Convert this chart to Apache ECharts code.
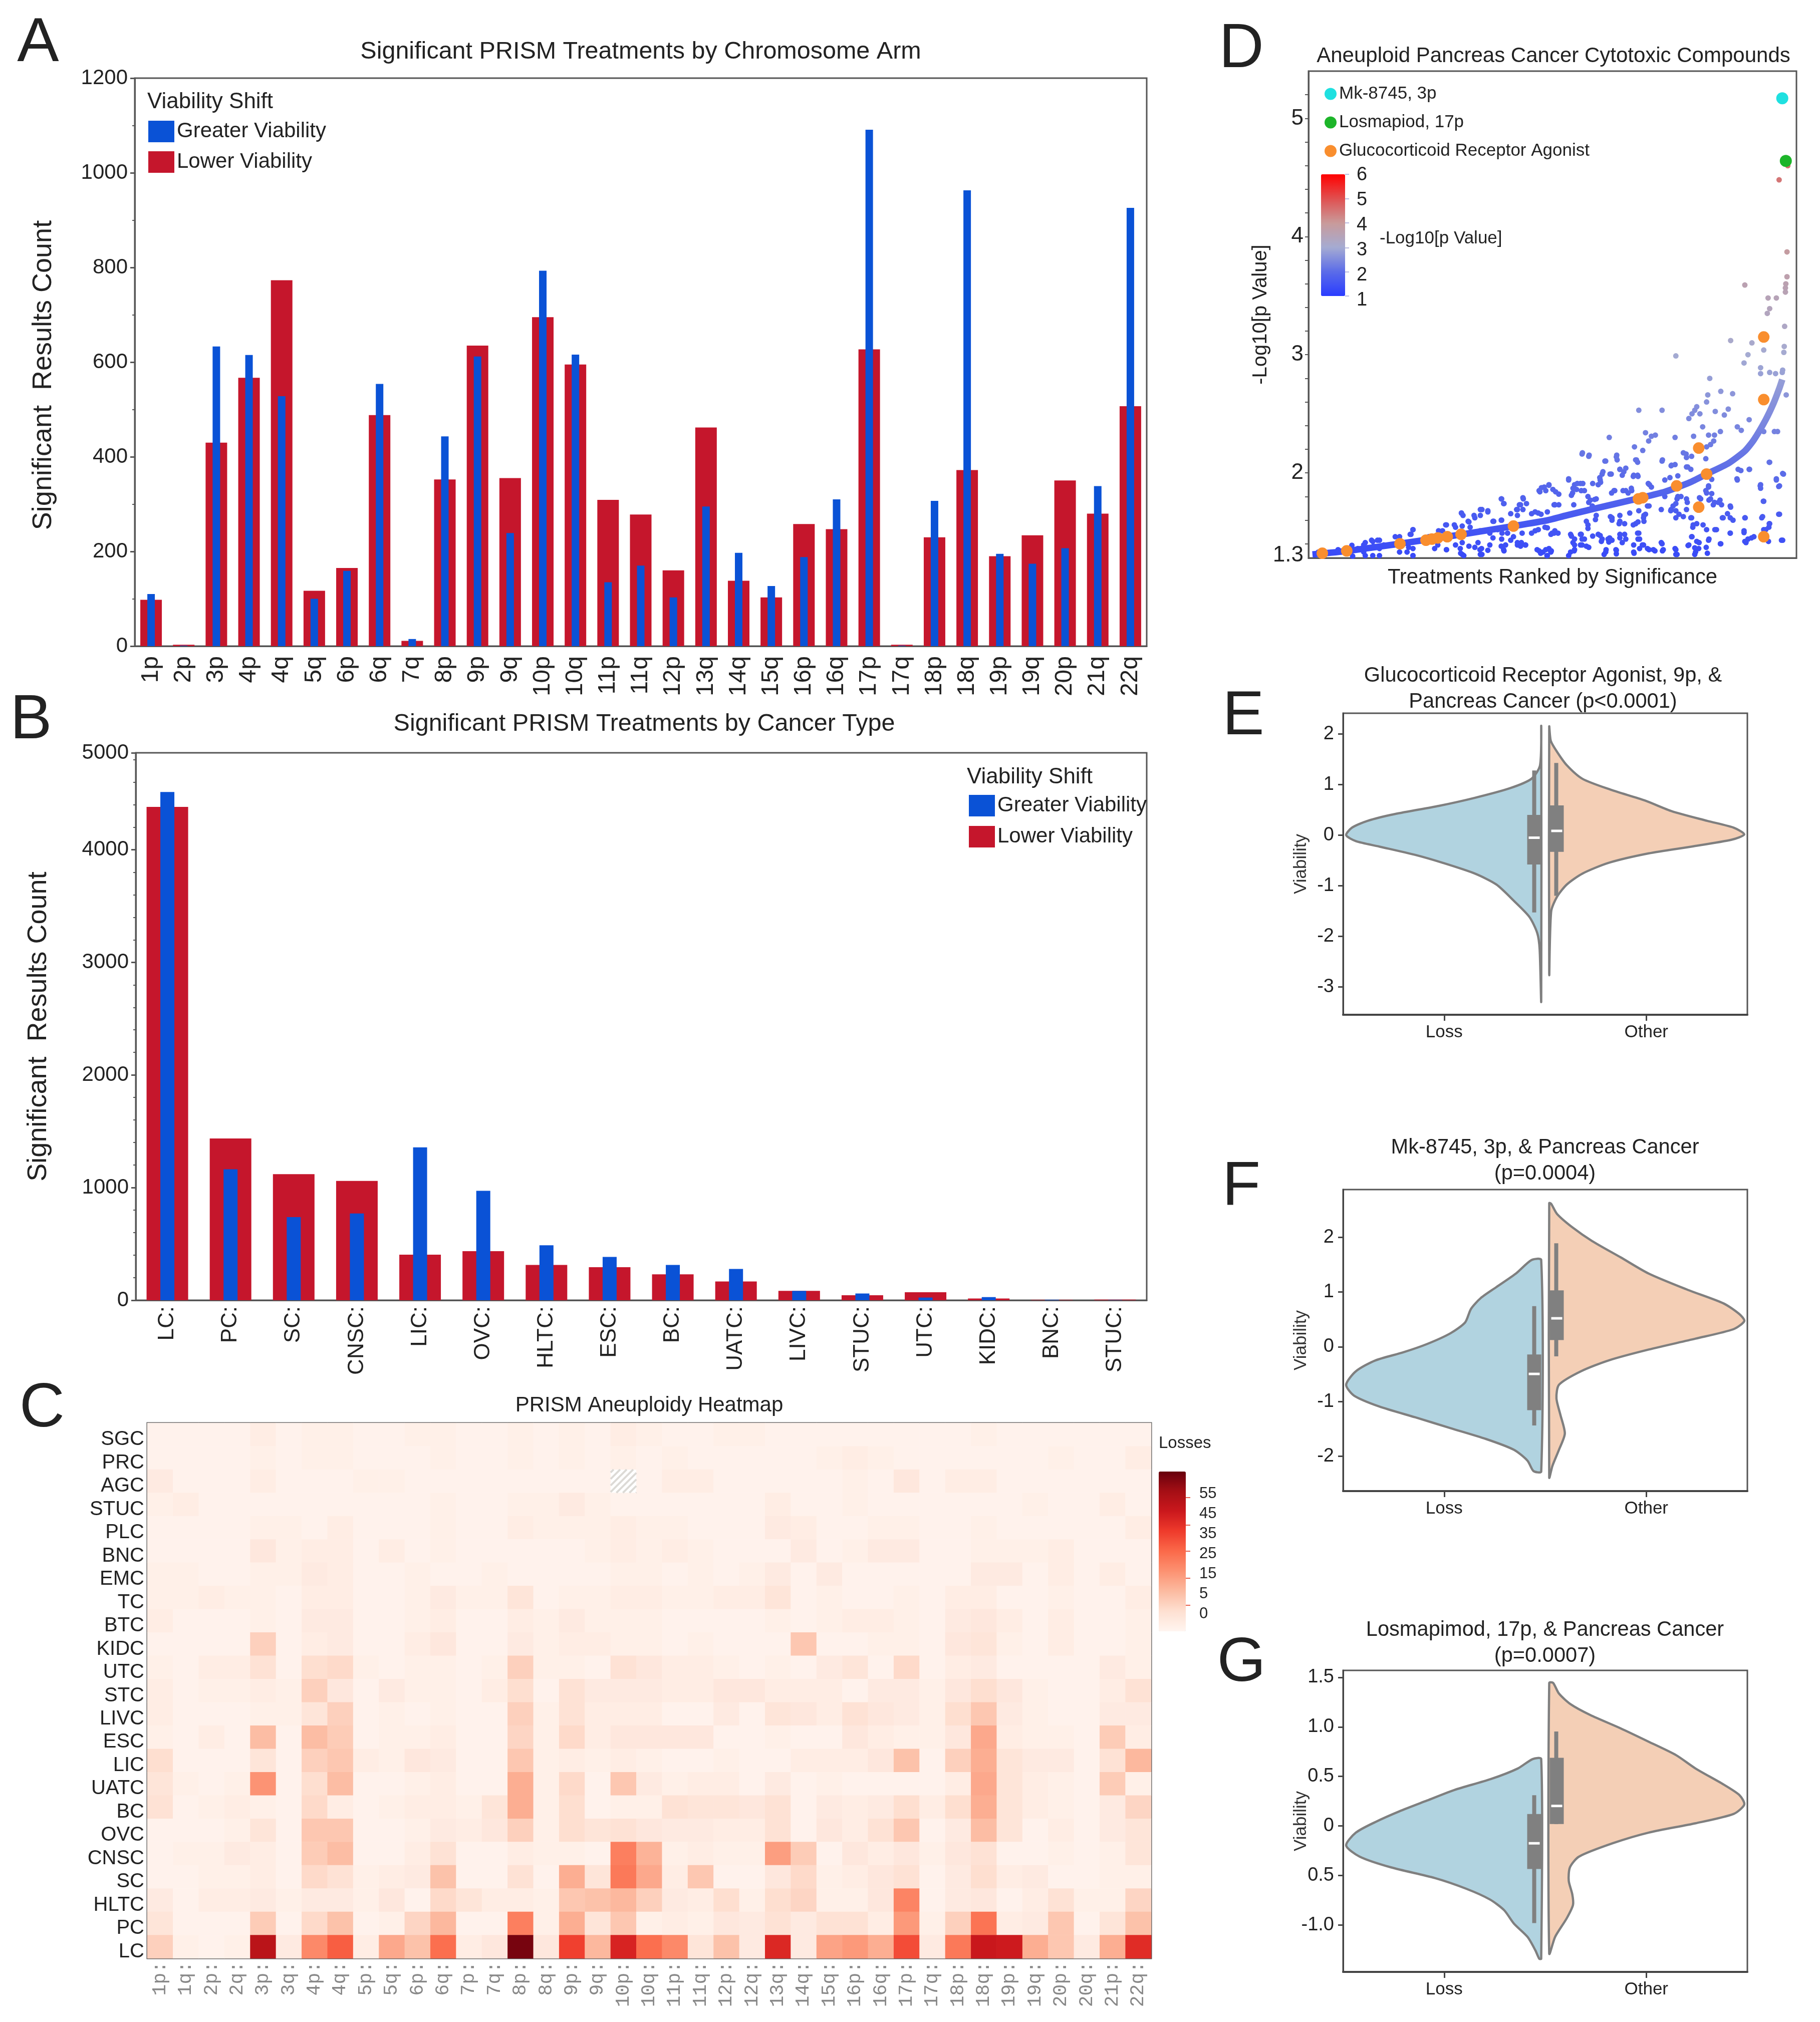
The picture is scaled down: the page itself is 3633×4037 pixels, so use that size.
<!DOCTYPE html>
<html>
<head>
<meta charset="utf-8">
<title>PRISM aneuploidy</title>
<script src="https://cdn.jsdelivr.net/npm/echarts@6/dist/echarts.min.js"></script>
<style>
  html, body { margin: 0; background: #fff; }
  #chart { width: 3633px; height: 4037px; }
</style>
</head>
<body>
<div id="chart"></div>
<script>
// A - results per chromosome arm
const armNames = ['1p','2p','3p','4p','4q','5q','6p','6q','7q','8p','9p','9q','10p','10q','11p','11q','12p','13q','14q','15q','16p','16q','17p','17q','18p','18q','19p','19q','20p','21q','22q'];
const armLower = [98,3,430,567,773,117,165,488,11,352,635,355,695,595,309,278,160,462,138,103,258,247,627,3,230,372,190,234,350,280,507];
const armGreater = [110,1,633,615,528,100,159,554,15,443,612,239,793,616,135,170,103,295,197,127,188,310,1091,1,307,963,195,174,207,338,926];

// B - results per cancer type
const cancerNames = ['LC:','PC:','SC:','CNSC:','LIC:','OVC:','HLTC:','ESC:','BC:','UATC:','LIVC:','STUC:','UTC:','KIDC:','BNC:','STUC:'];
const cancerLower = [4380,1436,1119,1059,405,436,313,294,230,167,83,44,71,16,3,6];
const cancerGreater = [4512,1163,738,770,1357,972,488,385,313,278,83,60,24,28,4,2];
const cancerTop = 4860; // the top of the axis carries the label 5000

// C - heatmap, rows listed top to bottom
const heatCols = ['1p','1q','2p','2q','3p','3q','4p','4q','5p','5q','6p','6q','7p','7q','8p','8q','9p','9q','10p','10q','11p','11q','12p','12q','13q','14q','15q','16p','16q','17p','17q','18p','18q','19p','19q','20p','20q','21p','22q'];
const heatRowNames = ['SGC','PRC','AGC','STUC','PLC','BNC','EMC','TC','BTC','KIDC','UTC','STC','LIVC','ESC','LIC','UATC','BC','OVC','CNSC','SC','HLTC','PC','LC'];
const heatValues = [
  [1,1,1,1,3,1,2,2,1,1,2,2,1,1,2,1,2,1,3,2, 1,1,2,2,1,1,1,1,1,1,1,1,2,1,1,1,1,1,1],
  [1,1,1,1,2,1,2,2,1,1,1,2,1,1,2,1,2,1,2,1, 2,1,1,1,1,1,2,3,2,1,1,1,1,1,1,2,1,1,3],
  [4,1,1,1,3,1,1,1,2,2,1,1,1,1,1,1,1,1,null,1, 3,3,1,1,1,1,1,2,1,5,1,3,3,1,1,1,1,1,1],
  [2,3,1,1,1,1,1,1,1,1,1,2,1,1,2,2,4,2,1,1, 1,1,1,1,3,1,1,2,1,1,1,1,1,1,2,1,1,3,1],
  [1,1,1,1,2,2,1,3,1,1,1,2,1,1,3,2,2,2,3,2, 2,1,1,1,4,3,1,1,2,2,1,1,2,1,1,1,1,1,3],
  [1,1,1,1,5,2,3,3,1,3,1,2,1,1,1,1,1,2,3,2, 3,2,1,1,1,4,1,2,4,4,1,1,2,2,2,3,1,1,1],
  [2,2,1,1,2,2,4,3,1,1,2,1,1,2,1,1,1,1,2,2, 1,2,1,2,4,1,4,1,1,1,1,1,4,4,1,3,1,3,1],
  [2,2,3,2,2,1,3,3,1,1,2,4,2,2,6,1,2,2,3,3, 2,2,3,3,6,1,2,1,1,2,1,3,3,1,1,2,1,1,3],
  [3,1,1,1,2,1,4,4,1,1,2,3,1,1,3,2,4,2,2,2, 1,1,1,1,2,1,2,3,3,2,1,4,5,3,1,3,1,1,2],
  [1,1,1,1,11,1,3,4,1,1,3,5,1,1,4,2,3,3,2,2, 1,2,1,1,1,13,1,1,2,2,1,5,6,2,1,3,1,1,2],
  [2,1,3,3,7,1,8,9,2,1,2,2,1,2,11,2,2,1,7,5, 3,3,2,1,2,1,4,6,1,9,1,3,4,1,1,1,1,4,2],
  [3,1,2,2,3,2,11,5,1,4,2,2,1,3,8,1,7,4,4,4, 3,3,5,5,3,3,3,1,4,4,2,5,8,5,2,1,1,3,7],
  [3,1,1,1,2,2,6,11,1,2,1,2,1,1,11,2,7,3,3,3, 1,1,4,1,6,5,3,7,5,4,2,8,13,4,2,1,1,4,4],
  [2,1,3,1,15,1,15,12,1,2,2,3,1,1,10,2,9,3,5,5, 5,5,1,1,2,1,1,5,3,2,2,5,19,3,2,2,1,12,3],
  [8,1,1,1,6,1,11,13,3,2,5,4,1,1,13,2,3,2,3,2, 1,1,2,1,1,3,3,3,5,14,1,11,18,6,4,4,1,7,16],
  [6,2,1,2,23,1,8,15,1,1,2,3,1,1,18,2,9,1,13,4, 2,3,3,1,4,1,2,1,1,1,1,3,19,6,3,2,1,12,2],
  [7,1,2,3,2,1,9,3,1,2,3,3,2,6,18,2,8,1,2,2, 7,6,6,5,7,1,4,3,4,8,3,8,18,6,3,2,1,4,10],
  [1,1,1,2,6,1,13,13,1,1,2,4,3,5,11,2,8,6,7,5, 4,4,3,3,7,1,5,3,7,13,1,4,15,6,1,3,1,4,6],
  [1,2,2,4,3,1,12,15,1,1,3,7,1,1,3,2,2,1,27,17, 2,3,2,2,21,12,1,5,3,5,2,5,7,1,1,2,1,2,6],
  [1,1,2,2,3,1,9,7,2,3,4,14,1,1,7,1,18,6,28,19, 3,13,1,1,5,9,2,3,5,7,1,4,8,3,4,1,1,2,2],
  [4,1,3,3,4,2,4,4,2,5,1,9,6,3,3,2,13,14,16,11, 4,3,8,2,8,10,2,2,5,26,1,4,5,1,3,7,2,2,10],
  [6,1,1,1,12,1,9,14,1,2,10,16,1,1,27,2,18,6,13,2, 3,2,5,4,7,4,7,7,3,22,2,11,29,3,4,13,1,6,14],
  [11,2,1,2,50,4,25,33,3,19,14,30,3,5,60,5,38,16,44,30, 25,6,14,4,43,4,20,22,18,36,4,28,47,46,18,13,4,18,42]
];
const heatMax = 62;
const lossTicks = ['55','45','35','25','15','5','0'];

// D - ranked treatments, [rank, -log10 p]
const rankCurve = [[10,1.31],[100,1.34],[230,1.40],[330,1.45],[390,1.48],[520,1.55],[607,1.60],[654,1.64],[735,1.705],[819,1.77],[904,1.84],[968,1.92],[1010,1.99],[1065,2.08],[1107,2.185],[1130,2.28],[1160,2.45],[1180,2.59],[1195,2.72],[1202,2.79]];
const rankDots = [
  [1194,4.48],[1216,4.60],[1214,3.87],[1214,3.66],[1107,3.59],[1211,3.60],[1210,3.565],[1210,3.53],[1166,3.48],[1187,3.48],[1170,3.39],[1164,3.35],[1208,3.24],[1071,3.12],[1125,3.10],[1155,3.04],[1115,3.00],[932,2.99],[1207,3.07],[1206,3.02],[1105,2.93],[1147,2.89],[1147,2.84],[1170,2.85],[1185,2.84],[1203,2.87],[1202,2.85],[1018,2.80],
  [1046,2.69],[1076,2.67],[1013,2.66],[1212,2.66],[1010,2.60],[838,2.53],[897,2.53],[985,2.56],[980,2.53],[973,2.50],[965,2.46],[993,2.50],[1032,2.52],[1065,2.54],[1055,2.49],[1118,2.45],[1000,2.39],[1088,2.39],[1098,2.36],[1045,2.35],[1030,2.32],[1015,2.32],
  [880,2.32],[870,2.31],[763,2.30],[855,2.34],[930,2.30],[977,2.31],[1155,2.35],[1182,2.35],[1190,2.35],[1028,2.27],[1020,2.24],[863,2.27],[827,2.22],[848,2.19],[1010,2.22],[695,2.17],[712,2.15],[782,2.15],[958,2.16],[830,2.11],[835,2.09],[752,2.10],[783,2.11],[898,2.11],[1170,2.09],[920,2.06],[930,2.07],[962,2.05],[970,2.03],
  [1118,2.03],[1090,2.03],[1205,1.99],[745,1.99],[765,1.99],[790,2.03],[800,2.01],[825,1.98],[835,1.98],[917,1.96],[865,1.90],[1088,1.94],[1187,1.94],[1195,1.89],[1147,1.90],[1147,1.87],[660,1.94],[740,1.94],[675,1.90],[690,1.91],[680,1.86],[735,1.90],[598,1.88],[610,1.90],[620,1.86],[585,1.85],[635,1.82],[625,1.73],[670,1.83],[700,1.85],
  [775,1.85],[805,1.85],[820,1.85],[910,1.85],[1015,1.88],[1010,1.83],[945,1.80],[935,1.78],[995,1.78],[1020,1.78],[1040,1.75],[1030,1.75],[1155,1.76],[1070,1.72],[925,1.72],[920,1.69],[940,1.65],[1070,1.62],[1050,1.62],[1195,1.65],[1108,1.62],[1150,1.62],[970,1.62],[985,1.57],[975,1.54],[1170,1.57],
  [490,1.78],[495,1.74],[545,1.78],[535,1.73],[530,1.69],[730,1.78],[715,1.77],[720,1.72],[710,1.69],[635,1.73],[575,1.67],[590,1.65],[530,1.64],[490,1.60],[470,1.59],[440,1.69],[455,1.67],[388,1.66],[420,1.64],[405,1.59],[370,1.56],[348,1.56],[850,1.62],[830,1.57],[770,1.62],[790,1.59],[860,1.72],[770,1.60],[730,1.64],[655,1.64],[705,1.59],[895,1.69],[855,1.65],
  [265,1.52],[260,1.48],[305,1.46],[220,1.46],[340,1.51],[355,1.48],[160,1.43],[175,1.43],[140,1.39],[165,1.38],[180,1.36],[125,1.36],[140,1.33],[75,1.35],[25,1.33],[250,1.33],[265,1.36],[265,1.30],[320,1.36],[385,1.36],[390,1.31],[435,1.35],[440,1.31],[350,1.35],[460,1.39],[430,1.41],[410,1.54],[435,1.51],
  [490,1.44],[500,1.39],[495,1.35],[520,1.46],[540,1.41],[530,1.39],[550,1.39],[480,1.52],[505,1.49],[460,1.49],[580,1.35],[595,1.33],[610,1.36],[615,1.33],[605,1.30],[625,1.51],[615,1.48],[600,1.54],[575,1.51],
  [665,1.48],[675,1.44],[690,1.48],[700,1.44],[675,1.39],[690,1.39],[705,1.38],[665,1.33],[675,1.35],[735,1.48],[745,1.44],[760,1.44],[770,1.43],[790,1.48],[805,1.44],[755,1.35],[750,1.31],[780,1.35],[825,1.33],[835,1.49],[840,1.44],[825,1.39],[850,1.39],[840,1.36],[860,1.36],[875,1.35],[895,1.41],[900,1.35],[930,1.36],[935,1.31],[965,1.39],[973,1.46],[985,1.42],[1015,1.43],[990,1.36],[980,1.31],[1035,1.52],[1045,1.40],[1070,1.49],[1105,1.51],[1115,1.44],[1110,1.41],[1130,1.46],[1200,1.43],[1155,1.52],[1168,1.54],[1010,1.52],
  [17,1.31],[76,1.345],[110,1.387],[112,1.295],[144,1.41],[144,1.30],[163,1.42],[180,1.43],[163,1.30],[180,1.30],[191,1.39],[231,1.46],[231,1.33],[265,1.52],[258,1.48],[265,1.30],[254,1.37],[330,1.51],[328,1.39],[350,1.56],[373,1.54],[350,1.35],[373,1.39],[388,1.66],[392,1.64],[390,1.55],[390,1.41],[386,1.32],[394,1.30],[407,1.585],[422,1.62],[436,1.69],[436,1.64],[455,1.68],[468,1.59],[468,1.45],[407,1.38],[422,1.37],[439,1.36],[436,1.31],[455,1.345],[489,1.78],[496,1.74],[489,1.60],[491,1.49],[489,1.38],[496,1.34],[513,1.655],[528,1.69],[538,1.73],[544,1.79],[553,1.74],[544,1.69],[513,1.43],[530,1.41],[538,1.38],[551,1.39],[542,1.49],[566,1.49],[585,1.34],[602,1.35],[589,1.32],[616,1.34],[606,1.30],[566,1.655],[583,1.66],[606,1.67],[583,1.52],[606,1.535],[623,1.49],[623,1.73],[587,1.84],[591,1.875],[602,1.85],[610,1.895],[627,1.84],
  [694,2.16],[711,2.14],[754,2.10],[781,2.135],[832,2.11],[897,2.10],[921,2.065],[959,2.05],[951,2.17],[959,2.13],[972,2.14],[1008,2.12],[660,1.95],[682,1.91],[696,1.91],[671,1.87],[692,1.85],[667,1.81],[721,1.91],[747,2.01],[739,1.96],[741,1.92],[768,1.99],[790,2.03],[805,2.04],[796,1.98],[824,1.97],[836,1.97],[709,1.80],[726,1.775],[711,1.75],[769,1.83],[777,1.85],[798,1.85],[819,1.87],[811,1.83],[862,1.91],[870,1.88],[904,1.94],[904,1.80],[937,1.975],[937,1.80],[959,1.78],[961,1.75],[932,1.74],[959,1.69],[919,1.68],[932,1.68],[932,1.62],[951,1.63],[972,1.62],[976,1.56],[1001,1.56],[1031,1.52],[992,1.79],[1023,1.945],[1015,1.89],[1008,1.85],[1023,1.825],[1016,1.77],[1027,1.73],[1044,1.77],[1048,1.73],[1071,1.71],[1063,1.655],[1052,1.62],[1077,1.60],[1107,1.62],[1070,1.49],[1105,1.495],[1124,1.45],[1107,1.42],[1152,1.63],[1169,1.57],[1160,1.52],[1167,1.42],[1203,1.43],[1193,1.65],[1154,1.76],[1146,1.89],[1193,1.885],[1187,1.95],[1203,1.995],[1169,2.09],[1097,2.02],[1119,2.03],[1087,1.95],
  [618,1.49],[633,1.49],[667,1.465],[692,1.48],[694,1.44],[671,1.41],[694,1.39],[711,1.37],[721,1.465],[740,1.47],[743,1.42],[764,1.45],[762,1.415],[790,1.45],[802,1.48],[796,1.41],[754,1.33],[781,1.345],[781,1.315],[826,1.32],[838,1.49],[836,1.44],[847,1.39],[864,1.35],[879,1.34],[898,1.34],[897,1.40],[932,1.35],[932,1.31],[963,1.385],[972,1.46],[991,1.41],[980,1.366],[982,1.33],[1009,1.37],[1012,1.32],[1016,1.44],[1046,1.40],[614,1.34],[660,1.30],[674,1.34],[709,1.56],[709,1.53],[728,1.605],[766,1.63],[790,1.64],[788,1.57],[802,1.57],[815,1.66],[838,1.68],[851,1.64],[851,1.59],[824,1.56],[836,1.585],[864,1.72],[673,1.73],[625,1.73]
];
const agonistDots = [[35,1.32],[97,1.34],[232,1.40],[298,1.43],[313,1.44],[328,1.45],[352,1.46],[387,1.48],[520,1.55],[837,1.78],[848,1.79],[934,1.89],[1010,1.99],[990,2.21],[990,1.71],[1155,3.15],[1155,2.62],[1155,1.46]];
const mkDot = [[1202,5.17]];
const losDot = [[1211,4.64]];
const rankTickLabels = [1.3,2,3,4,5];
const rankTicks = [1.4,1.6,1.8,2,2.2,2.4,2.6,2.8,3,3.2,3.4,3.6,3.8,4,4.2,4.4,4.6,4.8,5,5.2];
const pScaleLabels = ['6','5','4','3','2','1'];

// E - violin outlines: viability and density (share of the widest point)
const eLossVal = [2.146,1.384,1.116,0.93,0.74,0.58,0.418,0.284,0.15,0,-0.118,-0.225,-0.386,-0.547,-0.76,-0.976,-1.3,-1.62,-1.94,-2.26,-3.28];
const eLossDen = [0,0.006,0.05,0.16,0.34,0.525,0.75,0.89,0.97,1,0.95,0.83,0.65,0.505,0.34,0.23,0.14,0.06,0.02,0.008,0];
const eOtherVal = [2.146,1.867,1.65,1.384,1.116,0.9,0.687,0.472,0.284,0.15,0.016,-0.09,-0.225,-0.36,-0.547,-0.76,-0.976,-1.218,-1.51,-2.75];
const eOtherDen = [0,0.008,0.04,0.09,0.17,0.315,0.49,0.63,0.81,0.945,1,0.935,0.73,0.51,0.305,0.17,0.09,0.04,0.01,0];
const eLossBox = [-1.53,-0.58,-0.05,0.4,1.28];
const eOtherBox = [-1.2,-0.33,0.085,0.59,1.43];
const eTicks = [-3,-2,-1,0,1,2];

// F
const fLossVal = [1.584,1.584,1.337,1.09,0.89,0.693,0.446,0.248,0.05,-0.1,-0.248,-0.446,-0.693,-0.89,-1.09,-1.287,-1.485,-1.683,-1.88,-2.08,-2.267,-2.277];
const fLossDen = [0,0.05,0.13,0.23,0.31,0.36,0.39,0.465,0.586,0.707,0.85,0.95,1,0.96,0.83,0.646,0.465,0.283,0.14,0.07,0.04,0];
const fOtherVal = [2.624,2.61,2.426,2.178,1.931,1.634,1.337,1.04,0.792,0.594,0.47,0.322,0.149,-0.05,-0.248,-0.446,-0.693,-0.94,-1.238,-1.584,-1.88,-2.178,-2.386];
const fOtherDen = [0,0.01,0.04,0.12,0.22,0.366,0.51,0.71,0.894,0.976,1,0.945,0.75,0.51,0.305,0.163,0.05,0.037,0.057,0.08,0.05,0.016,0];
const fLossBox = [-1.436,-1.158,-0.495,-0.139,0.743];
const fOtherBox = [-0.173,0.124,0.52,1.03,1.891];
const fTicks = [-2,-1,0,1,2];

// G
const gLossVal = [0.675,0.675,0.58,0.472,0.364,0.256,0.148,0.04,-0.067,-0.197,-0.31,-0.418,-0.526,-0.634,-0.742,-0.85,-0.985,-1.12,-1.255,-1.34,-1.34];
const gLossDen = [0,0.044,0.12,0.26,0.444,0.586,0.727,0.85,0.95,1,0.93,0.77,0.545,0.384,0.263,0.19,0.14,0.07,0.03,0.01,0];
const gOtherVal = [1.444,1.444,1.336,1.228,1.12,0.985,0.85,0.715,0.58,0.418,0.31,0.216,0.121,0.027,-0.067,-0.175,-0.31,-0.418,-0.553,-0.688,-0.796,-0.931,-1.12,-1.287];
const gOtherDen = [0,0.02,0.05,0.11,0.21,0.366,0.51,0.65,0.75,0.894,0.976,1,0.945,0.75,0.51,0.325,0.152,0.106,0.1,0.118,0.122,0.09,0.03,0];
const gLossBox = [-0.98,-0.434,-0.175,0.121,0.31];
const gOtherBox = [0.019,0.019,0.202,0.688,0.953];
const gTicks = [-1,-0.5,0,0.5,1,1.5];
const gTickLabels = {'-1':'-1.0','-0.5':'0.5','0':'0','0.5':'0.5','1':'1.0','1.5':'1.5'};

const FONT = 'Liberation Sans';
const INK = '#222';
const FRAME = '#555';
const BLUE = '#0a52d6';
const RED = '#c5162c';
const SKY = '#b1d3e0';
const PEACH = '#f4cfb6';
const OUTLINE = '#7f7f7f';

function note(text, x, y, size, align) {
  return {
    text, left: x, top: y, padding: 0,
    textAlign: align || 'center', textVerticalAlign: 'middle',
    textStyle: { fontFamily: FONT, fontSize: size, fontWeight: 'normal', color: INK, lineHeight: size * 1.25 }
  };
}

function frame(left, top, width, height) {
  return { left, top, width, height, show: true, borderColor: FRAME, borderWidth: 3, backgroundColor: 'transparent' };
}

function countAxis(gridIndex, max, interval, splitNumber) {
  return {
    type: 'value', gridIndex, min: 0, max, interval,
    name: 'Significant  Results Count', nameLocation: 'middle', nameGap: 155,
    nameTextStyle: { fontFamily: FONT, fontSize: 54, color: INK, padding: [0, 52, 0, 0] },
    splitLine: { show: false },
    axisLine: { show: true, onZero: false, lineStyle: { color: FRAME, width: 3 } },
    axisTick: { show: true, length: 9, lineStyle: { color: FRAME, width: 3 } },
    minorTick: { show: true, splitNumber, length: 5, lineStyle: { color: FRAME, width: 2 } },
    axisLabel: { fontFamily: FONT, fontSize: 42, color: INK, margin: 14, formatter: v => String(v) }
  };
}

function barAxis(gridIndex, names, size, margin, show) {
  return {
    type: 'category', gridIndex, data: names, show,
    axisLine: { show: true, lineStyle: { color: FRAME, width: 3 } },
    axisTick: { show: false },
    axisLabel: { fontFamily: FONT, fontSize: size, color: INK, rotate: 90, margin, interval: 0 }
  };
}

function violinX(gridIndex) {
  return {
    type: 'category', gridIndex, data: ['Loss', 'Other'],
    axisLine: { show: true, onZero: false, lineStyle: { color: '#444', width: 4 } },
    axisTick: { show: true, alignWithLabel: true, length: 12, lineStyle: { color: '#444', width: 3 } },
    axisLabel: { fontFamily: FONT, fontSize: 35, color: INK, margin: 18 }
  };
}

function violinY(gridIndex, min, max, ticks, formatter) {
  return {
    type: 'value', gridIndex, min, max,
    name: 'Viability', nameLocation: 'middle', nameGap: 66, nameMoveOverlap: false,
    nameTextStyle: { fontFamily: FONT, fontSize: 35, color: '#333' },
    splitLine: { show: false },
    axisLine: { show: true, onZero: false, lineStyle: { color: '#444', width: 3 } },
    axisTick: { show: true, length: 10, customValues: ticks, lineStyle: { color: '#444', width: 3 } },
    axisLabel: { fontFamily: FONT, fontSize: 38, color: INK, margin: 18, customValues: ticks, formatter }
  };
}

// half of a split violin plus its box, drawn from viability values through the y axis
function violin(name, catIndex, gridIndex, vals, dens, box, fill) {
  const side = catIndex === 0 ? -1 : 1;
  return {
    type: 'custom', name, xAxisIndex: gridIndex + 2, yAxisIndex: gridIndex,
    data: [[catIndex, 0]], encode: { x: 0, y: 1 }, clip: false, silent: true,
    renderItem(params, api) {
      const band = api.size([1, 0])[0];
      const edge = api.coord([catIndex, 0])[0] - side * (band / 2 - 8);
      const span = band * 0.965;
      const yAt = v => api.coord([catIndex, v])[1];
      const pts = vals.map((v, i) => [edge + side * dens[i] * span, yAt(v)]);
      const boxLeft = side < 0 ? edge - 28 : edge + 1;
      const whisker = edge + side * 14 - 4;
      const bar = (x, top, bottom, w, color) => ({
        type: 'rect',
        shape: { x, y: yAt(top), width: w, height: Math.max(yAt(bottom) - yAt(top), 0) },
        style: { fill: color }
      });
      const mid = yAt(box[2]);
      return {
        type: 'group',
        children: [
          { type: 'polygon', shape: { points: pts, smooth: 0.25 }, style: { fill, stroke: OUTLINE, lineWidth: 4.5 } },
          bar(whisker, box[4], box[0], 8, '#808080'),
          bar(boxLeft, box[3], box[1], 28, '#808080'),
          { type: 'rect', shape: { x: boxLeft + 3, y: mid - 2.5, width: 22, height: 5 }, style: { fill: '#fff' } }
        ]
      };
    }
  };
}

// the one heatmap cell without data is hatched
const heatData = [];
const missingCells = [];
heatValues.forEach((row, r) => row.forEach((v, c) => {
  if (v === null) missingCells.push([c, r]);
  else heatData.push([c, r, v]);
}));

function hatchCell(params, api) {
  const mid = api.coord([api.value(0), api.value(1)]);
  const size = api.size([1, 1]);
  const x0 = mid[0] - size[0] / 2;
  const y0 = mid[1] - size[1] / 2;
  const lines = [];
  for (let t = 6; t < size[0] + size[1]; t += 13) {
    const ax = Math.min(t, size[0]);
    const ay = t - ax;
    const by = Math.min(t, size[1]);
    const bx = t - by;
    lines.push({
      type: 'line',
      shape: { x1: x0 + ax, y1: y0 + ay, x2: x0 + bx, y2: y0 + by },
      style: { stroke: '#dcdad6', lineWidth: 4 }
    });
  }
  return { type: 'group', children: lines };
}

function scaleTick(x1, x2, y, color) {
  return { type: 'line', shape: { x1, y1: y, x2, y2: y }, style: { stroke: color, lineWidth: 2 }, silent: true };
}

const swatchText = { fontFamily: FONT, fontSize: 42, color: INK };

const option = {
  animation: false,
  backgroundColor: '#fff',
  textStyle: { fontFamily: FONT },
  title: [
    note('A', 76, 88, 125),
    note('B', 62, 1440, 125),
    note('C', 84, 2814, 125),
    note('D', 2478, 100, 124),
    note('E', 2482, 1432, 125),
    note('F', 2478, 2372, 125),
    note('G', 2478, 3322, 125),
    note('Significant PRISM Treatments by Chromosome Arm', 1279, 104, 48.5),
    note('Viability Shift', 294, 204, 44, 'left'),
    note('Significant PRISM Treatments by Cancer Type', 1286, 1446, 48.5),
    note('Viability Shift', 1930, 1552, 44, 'left'),
    note('PRISM Aneuploidy Heatmap', 1296, 2806, 42),
    note('Losses', 2313, 2882, 33, 'left'),
    ...lossTicks.map((t, i) => note(t, 2394, 2982 + i * 40, 31, 'left')),
    note('Aneuploid Pancreas Cancer Cytotoxic Compounds', 3101, 112, 42),
    ...pScaleLabels.map((t, i) => note(t, 2708, 350 + i * 50, 38, 'left')),
    note('-Log10[p Value]', 2754, 476, 35, 'left'),
    note('Glucocorticoid Receptor Agonist, 9p, &\nPancreas Cancer (p<0.0001)', 3080, 1376, 41.6),
    note('Mk-8745, 3p, & Pancreas Cancer\n(p=0.0004)', 3084, 2318, 41.6),
    note('Losmapimod, 17p, & Pancreas Cancer\n(p=0.0007)', 3084, 3281, 41.6)
  ],
  grid: [
    frame(269, 156, 2020, 1134),
    frame(271, 1503, 2018, 1093),
    frame(294, 2841, 2004, 1069),
    frame(2612, 142, 974, 972),
    frame(2681, 1424, 807, 602),
    frame(2681, 2375, 807, 602),
    frame(2681, 3335, 807, 602)
  ],
  xAxis: [
    barAxis(0, armNames, 48, 20, true),
    barAxis(0, armNames, 48, 20, false),
    barAxis(1, cancerNames, 44, 12, true),
    barAxis(1, cancerNames, 44, 12, false),
    {
      type: 'category', gridIndex: 2, data: heatCols.map(c => c + ':'),
      axisLine: { show: false, onZero: false }, axisTick: { show: false },
      axisLabel: { fontFamily: 'Liberation Mono', fontSize: 38, color: '#888', rotate: 90, margin: 6, interval: 0 }
    },
    {
      type: 'value', gridIndex: 3, min: 0, max: 1238,
      name: 'Treatments Ranked by Significance', nameLocation: 'middle', nameGap: 18,
      nameTextStyle: { fontFamily: FONT, fontSize: 41.8, color: INK },
      splitLine: { show: false }, axisTick: { show: false }, axisLabel: { show: false },
      axisLine: { show: true, onZero: false, lineStyle: { color: FRAME, width: 3 } }
    },
    violinX(4),
    violinX(5),
    violinX(6)
  ],
  yAxis: [
    countAxis(0, 1200, 200, 2),
    Object.assign(countAxis(1, cancerTop, 1000, 5), {
      nameGap: 167,
      nameTextStyle: { fontFamily: FONT, fontSize: 54, color: INK },
      axisLabel: {
        fontFamily: FONT, fontSize: 42, color: INK, margin: 14,
        customValues: [0, 1000, 2000, 3000, 4000, cancerTop],
        formatter: v => (v === cancerTop ? '5000' : String(v))
      }
    }),
    {
      type: 'category', gridIndex: 2, data: heatRowNames, inverse: true,
      axisLine: { show: false, onZero: false }, axisTick: { show: false },
      axisLabel: { fontFamily: FONT, fontSize: 40, color: INK, margin: 6, interval: 0, verticalAlign: 'top', lineHeight: 20 }
    },
    {
      type: 'value', gridIndex: 3, min: 1.28, max: 5.4,
      name: '-Log10[p Value]', nameLocation: 'middle', nameGap: 72,
      nameTextStyle: { fontFamily: FONT, fontSize: 40, color: INK },
      splitLine: { show: false },
      axisLine: { show: true, onZero: false, lineStyle: { color: FRAME, width: 3 } },
      axisTick: { show: true, length: 7, customValues: rankTicks, lineStyle: { color: FRAME, width: 2 } },
      axisLabel: { fontFamily: FONT, fontSize: 44, color: INK, margin: 10, customValues: rankTickLabels, padding: [8, 0, 0, 0] }
    },
    violinY(4, -3.553, 2.413, eTicks),
    violinY(5, -2.634, 2.871, fTicks),
    violinY(6, -1.473, 1.57, gTicks, v => gTickLabels[String(v)])
  ],
  legend: [
    {
      left: 296, top: 241, orient: 'vertical', padding: 0, itemGap: 18, itemWidth: 52, itemHeight: 43,
      icon: 'rect', textStyle: swatchText, data: ['Greater Viability', 'Lower Viability'],
      selectedMode: false
    },
    {
      left: 1934, top: 1587, orient: 'vertical', padding: 0, itemGap: 19, itemWidth: 52, itemHeight: 43,
      icon: 'rect', textStyle: swatchText, data: ['Greater Viability', 'Lower Viability'],
      selectedMode: false
    },
    {
      left: 2644, top: 170, orient: 'vertical', padding: 0, itemGap: 22, itemWidth: 24, itemHeight: 24,
      icon: 'circle', textStyle: { fontFamily: FONT, fontSize: 35, color: INK },
      data: ['Mk-8745, 3p', 'Losmapiod, 17p', 'Glucocorticoid Receptor Agonist'],
      selectedMode: false
    }
  ],
  visualMap: [
    {
      type: 'continuous', seriesIndex: 4, dimension: 2, min: 0, max: heatMax,
      left: 2313, top: 2938, itemWidth: 54, itemHeight: 319, padding: 0,
      calculable: false, realtime: false, showLabel: false, text: ['', ''], hoverLink: false,
      inRange: { color: ['#fff5f0', '#fee0d2', '#fcbba1', '#fc9272', '#fb6a4a', '#ef3b2c', '#cb181d', '#a50f15', '#67000d'] }
    },
    {
      type: 'continuous', seriesIndex: [6, 7], dimension: 1, min: 1, max: 6,
      left: 2637, top: 348, itemWidth: 48, itemHeight: 243, padding: 0,
      calculable: false, realtime: false, showLabel: false, text: ['', ''], hoverLink: false,
      inRange: { color: ['#2a3cff', '#5b6ce8', '#a5abd2', '#c99a9a', '#e05050', '#ff0000'] }
    }
  ],
  graphic: [
    ...[2990, 3045, 3097, 3151, 3205].map(y => scaleTick(2367, 2376, y, '#e8604c')),
    ...[348, 397, 445, 495, 543, 591].map(y => scaleTick(2685, 2693, y, '#b9b9e0'))
  ],
  series: [
    { type: 'bar', name: 'Lower Viability', xAxisIndex: 0, yAxisIndex: 0, data: armLower, barWidth: 43, itemStyle: { color: RED } },
    { type: 'bar', name: 'Greater Viability', xAxisIndex: 1, yAxisIndex: 0, data: armGreater, barWidth: 15, itemStyle: { color: BLUE }, z: 3 },
    { type: 'bar', name: 'Lower Viability', xAxisIndex: 2, yAxisIndex: 1, data: cancerLower, barWidth: 83, itemStyle: { color: RED } },
    { type: 'bar', name: 'Greater Viability', xAxisIndex: 3, yAxisIndex: 1, data: cancerGreater, barWidth: 28, itemStyle: { color: BLUE }, z: 3 },
    { type: 'heatmap', name: 'Losses', xAxisIndex: 4, yAxisIndex: 2, data: heatData, progressive: 0 },
    { type: 'custom', name: 'No data', xAxisIndex: 4, yAxisIndex: 2, data: missingCells, encode: { x: 0, y: 1 }, renderItem: hatchCell, silent: true },
    { type: 'scatter', name: 'Treatments', xAxisIndex: 5, yAxisIndex: 3, data: rankDots, symbolSize: 11, clip: false, itemStyle: { opacity: 1 } },
    { type: 'line', name: 'Rank curve', xAxisIndex: 5, yAxisIndex: 3, data: rankCurve, showSymbol: false, smooth: 0.2, lineStyle: { width: 13 }, z: 3 },
    { type: 'scatter', name: 'Glucocorticoid Receptor Agonist', xAxisIndex: 5, yAxisIndex: 3, data: agonistDots, symbolSize: 23, itemStyle: { color: '#f98e2e', opacity: 1 }, z: 4, clip: false },
    { type: 'scatter', name: 'Mk-8745, 3p', xAxisIndex: 5, yAxisIndex: 3, data: mkDot, symbolSize: 24, itemStyle: { color: '#1fe0e0', opacity: 1 }, z: 4 },
    { type: 'scatter', name: 'Losmapiod, 17p', xAxisIndex: 5, yAxisIndex: 3, data: losDot, symbolSize: 24, itemStyle: { color: '#1db52a', opacity: 1 }, z: 4 },
    violin('Loss E', 0, 4, eLossVal, eLossDen, eLossBox, SKY),
    violin('Other E', 1, 4, eOtherVal, eOtherDen, eOtherBox, PEACH),
    violin('Loss F', 0, 5, fLossVal, fLossDen, fLossBox, SKY),
    violin('Other F', 1, 5, fOtherVal, fOtherDen, fOtherBox, PEACH),
    violin('Loss G', 0, 6, gLossVal, gLossDen, gLossBox, SKY),
    violin('Other G', 1, 6, gOtherVal, gOtherDen, gOtherBox, PEACH)
  ]
};

const chart = echarts.init(document.getElementById('chart'), null, { renderer: 'canvas' });
chart.setOption(option);
</script>
</body>
</html>
